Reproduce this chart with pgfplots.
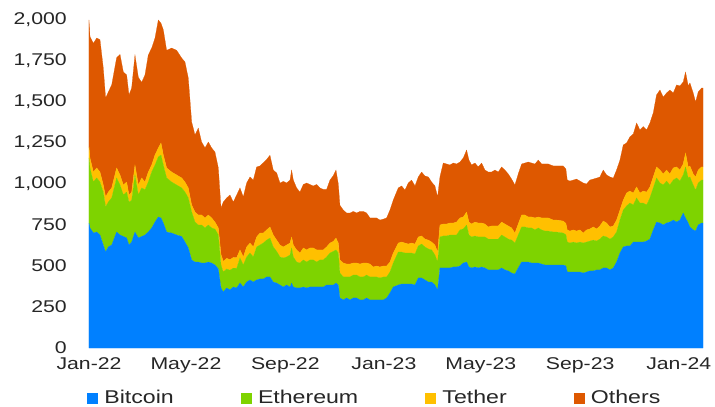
\documentclass[border=0pt]{standalone}
\usepackage{fontspec}
\setmainfont{Liberation Sans}[FakeStretch=1.25]
\usepackage{pgfplots}
\usepackage{pgfplotstable}
\pgfplotsset{compat=1.18}
\definecolor{cbtc}{RGB}{0,128,255}
\definecolor{ceth}{RGB}{126,211,0}
\definecolor{cusdt}{RGB}{255,192,0}
\definecolor{coth}{RGB}{222,88,0}
\definecolor{ctext}{RGB}{38,38,38}

\pgfplotstableread{
day btc eth usdt oth
0 762 397 67 774
1.2 732 366 61 741
5.4 701 311 61 784
9.5 707 330 61 792
13.6 689 323 61 807
17.7 628 323 43 713
20.6 585 275 61 603
23.9 616 274 61 610
28.1 628 287 61 628
34.2 707 330 61 672
38.4 689 305 61 735
42.5 680 253 61 689
46.6 671 280 61 653
49.5 628 262 43 610
52.8 646 254 51 634
56.9 707 348 61 671
61.1 671 262 61 656
65.2 680 296 61 583
69.3 689 276 47 653
73.4 707 305 61 714
77.6 732 341 43 713
81.7 768 348 61 713
85.8 799 366 55 780
89.1 793 384 73 730
92.0 762 354 61 763
96.1 707 330 61 717
102.3 701 311 61 756
108.5 689 305 61 760
114.7 680 296 61 731
118.8 646 305 61 732
122.9 610 305 61 670
127.1 537 292 43 506
131.2 524 244 61 470
135.3 524 226 61 530
139.4 518 232 61 445
143.6 518 214 61 427
147.7 524 226 61 445
151.8 518 214 61 427
155.9 506 219 43 427
160.1 482 207 43 366
163.4 366 140 65 283
166.2 341 122 65 362
170.4 366 116 65 368
174.5 354 120 65 394
178.6 372 115 65 338
182.8 366 120 65 382
186.9 396 153 49 378
191.0 372 134 49 366
195.1 402 153 61 390
199.3 415 164 61 403
203.4 402 153 61 408
207.5 415 201 61 427
211.6 421 207 73 409
215.8 421 219 61 429
219.9 433 225 62 430
224.0 433 237 68 437
228.1 402 214 73 396
232.3 396 193 69 409
236.4 384 171 73 378
240.5 372 177 67 400
244.6 384 171 73 378
248.8 372 195 73 384
250.8 396 214 67 408
252.9 372 183 73 396
257.0 366 158 74 378
261.1 366 152 61 372
265.3 372 165 73 387
269.4 366 158 74 408
273.5 372 165 73 387
277.6 372 165 73 378
281.8 372 152 74 399
285.9 372 165 61 378
290.0 372 165 61 369
294.1 384 171 61 351
298.3 384 195 61 384
302.4 384 205 61 401
305.7 396 202 72 415
308.6 384 195 61 360
310.6 305 152 80 333
314.8 293 140 85 323
318.9 305 128 79 311
323.0 293 140 79 311
327.1 305 140 73 315
331.3 305 140 73 305
335.4 293 140 79 321
339.5 293 140 85 315
343.6 305 140 73 305
347.8 293 140 79 281
351.9 293 140 61 299
356.0 293 140 67 293
360.1 293 134 67 286
364.3 293 140 67 286
368.4 305 128 67 293
372.5 335 128 61 317
376.6 372 146 61 323
382.8 384 201 55 336
387.0 390 195 61 342
391.1 390 189 61 323
395.2 390 189 55 372
399.3 390 189 61 384
403.5 384 189 61 354
407.6 427 195 55 366
411.7 427 207 49 390
415.8 415 201 48 385
420.0 402 202 54 385
424.1 402 196 48 366
428.2 384 183 61 360
431.5 354 170 61 336
434.4 488 189 73 293
438.5 488 195 73 372
442.7 488 195 73 366
446.8 488 201 73 354
450.9 494 195 73 366
455.0 494 195 79 354
459.2 500 220 73 341
463.3 518 208 73 360
467.4 524 226 79 378
470.3 494 195 79 378
473.6 488 189 79 360
477.7 494 189 85 360
481.8 488 189 85 342
486.0 494 183 85 366
490.1 488 189 79 329
494.2 476 188 74 335
498.3 476 188 80 329
502.5 476 188 80 341
506.6 476 188 80 329
510.7 488 201 79 336
514.8 476 201 79 329
519.0 470 194 80 317
523.1 457 201 74 298
527.2 451 189 61 293
531.3 488 201 67 305
535.5 524 214 73 311
539.6 524 214 73 317
543.7 524 208 67 335
547.8 518 214 67 329
552.0 518 202 73 329
556.1 518 214 67 347
560.2 512 208 73 329
564.3 506 207 80 329
568.5 506 207 80 329
574.7 506 201 73 330
578.8 506 201 73 330
582.9 506 198 73 333
587.0 506 195 73 336
590.3 500 190 70 331
592.0 463 183 74 304
595.3 463 177 73 305
599.4 463 183 74 304
603.5 463 177 73 317
607.7 463 183 74 298
611.8 457 183 61 305
615.9 463 183 74 280
620.0 470 182 74 298
624.2 470 188 80 292
628.3 476 176 74 310
632.4 476 188 80 299
636.5 488 195 91 311
640.7 488 189 85 293
644.8 476 188 74 305
648.9 488 189 67 292
653.0 524 183 73 305
657.2 579 201 61 305
661.3 616 225 61 336
665.4 622 244 79 305
669.5 622 262 73 330
673.7 646 226 73 360
677.8 646 269 67 390
681.9 646 238 61 385
686.0 646 238 73 393
690.2 652 220 79 379
694.3 664 251 67 390
698.4 720 256 67 390
702.5 768 269 67 439
706.7 762 244 79 488
710.8 750 244 67 469
714.9 762 256 67 470
719.0 768 226 67 512
723.2 780 244 74 457
727.3 768 269 67 500
731.4 780 238 67 513
735.5 823 232 67 500
738.4 793 311 85 494
741.7 762 275 67 494
743.8 738 305 67 506
747.9 720 274 67 494
750.8 713 250 80 457
754.1 750 256 79 476
758.2 762 262 80 481
760 762 262 80 481
}\data

\begin{document}
\begin{tikzpicture}
\path[use as bounding box] (-89pt,-59pt) rectangle (626pt,348pt);
\begin{axis}[
  scale only axis, width=614pt, height=328pt,
  at={(0pt,0pt)}, anchor=south west,
  xmin=0, xmax=760, ymin=0, ymax=2000,
  stack plots=y,
  axis line style={draw=none},
  tick style={draw=none},
  major tick length=0pt,
  xtick={0,120,243,365,485,608,730},
  xticklabels={Jan-22,May-22,Sep-22,Jan-23,May-23,Sep-23,Jan-24},
  ytick={0,250,500,750,1000,1250,1500,1750,2000},
  yticklabels={0,250,500,750,{1,000},{1,250},{1,500},{1,750},{2,000}},
  ticklabel style={font=\fontsize{17}{20}\selectfont, text=ctext, inner sep=0pt},
  yticklabel style={anchor=east, xshift=-22pt},
  xticklabel style={anchor=north, yshift=-9.5pt},
  legend columns=4,
  legend style={at={(axis description cs:0,0)}, anchor=west, xshift=-2pt, yshift=-50pt,
    draw=none, fill=none, inner sep=0pt,
    font=\fontsize{18.5}{21}\selectfont, text=ctext,
    nodes={inner sep=1pt},
    /tikz/every odd column/.append style={column sep=6pt},
    /tikz/every even column/.append style={column sep=66pt}},
  legend image code/.code={\fill[#1] (0pt,-5pt) rectangle (10pt,5pt);},
  legend cell align=left,
]
\addplot[fill=cbtc, draw=cbtc, line width=0.2pt] table[x=day,y=btc]{\data} \closedcycle;
\addplot[fill=ceth, draw=ceth, line width=0.2pt] table[x=day,y=eth]{\data} \closedcycle;
\addplot[fill=cusdt, draw=cusdt, line width=0.2pt] table[x=day,y=usdt]{\data} \closedcycle;
\addplot[fill=coth, draw=coth, line width=0.2pt] table[x=day,y=oth]{\data} \closedcycle;
\legend{Bitcoin,Ethereum,Tether,Others}
\end{axis}
\end{tikzpicture}
\end{document}
